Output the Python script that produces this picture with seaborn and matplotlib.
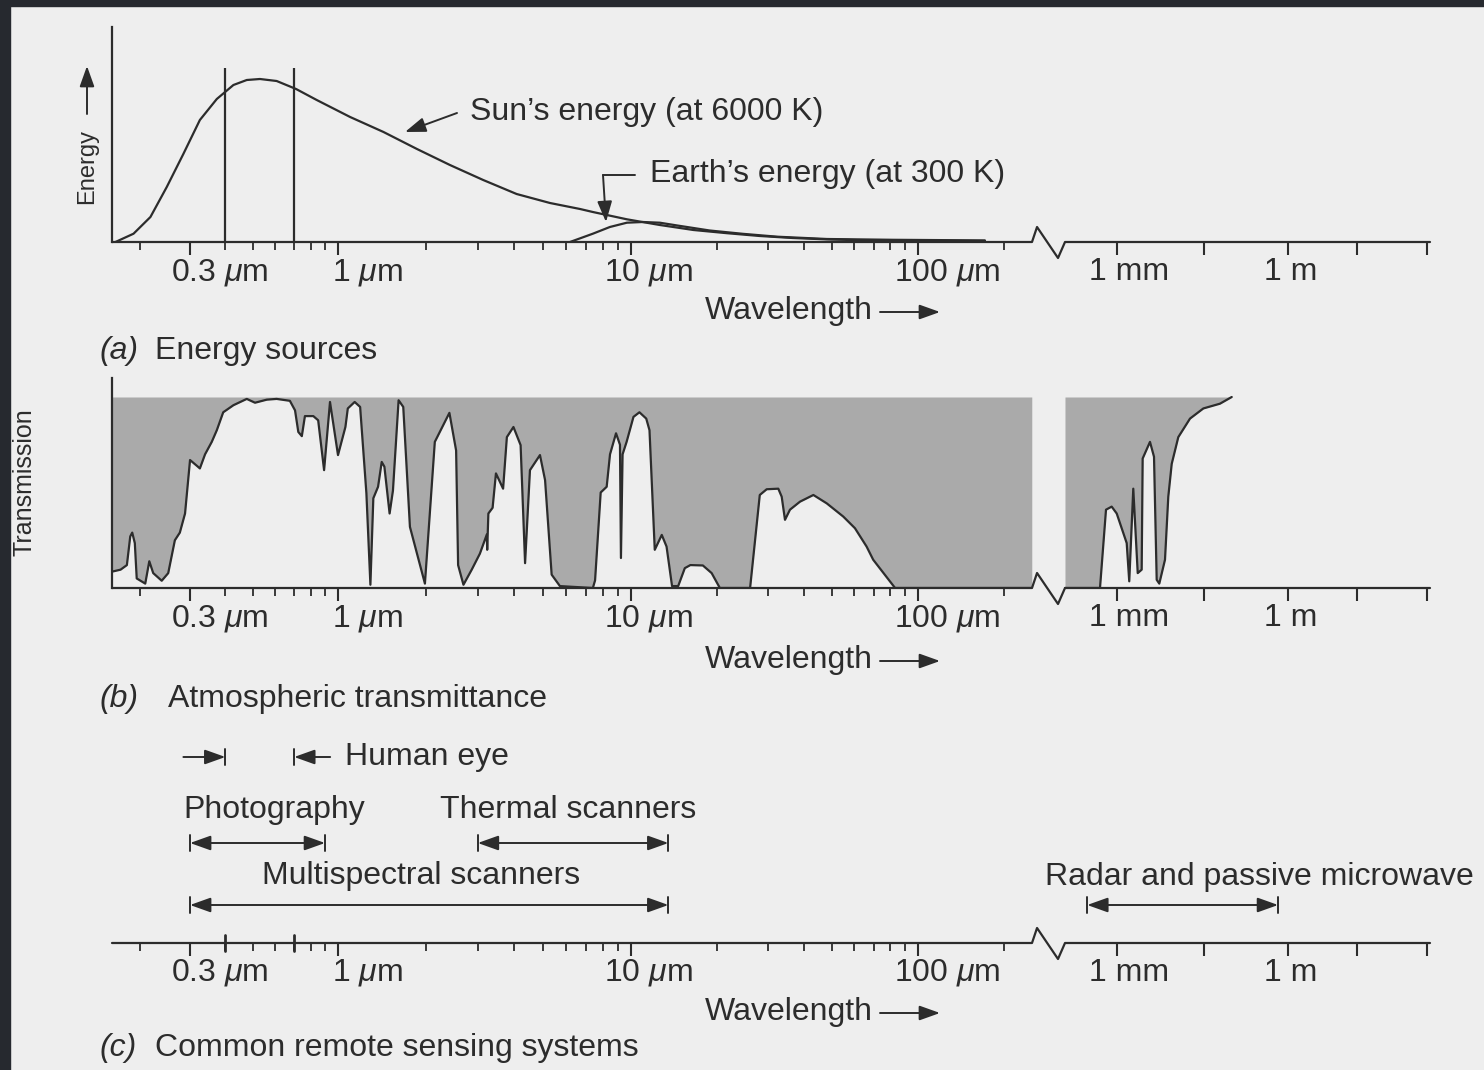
import numpy as np
import matplotlib
matplotlib.use("Agg")
import matplotlib.pyplot as plt
import seaborn as sns
from matplotlib.lines import Line2D
from matplotlib.patches import Rectangle, FancyArrowPatch

# ---------------- data ----------------
# (a) energy sources: wavelength in micrometres, relative energy
sun_wl = [0.163, 0.189, 0.217, 0.248, 0.284, 0.325, 0.373, 0.427, 0.476, 0.530,
          0.607, 0.711, 0.841, 1.10, 1.43, 1.86, 2.41, 3.13, 4.07, 5.29,
          6.70, 7.41, 9.68, 12.6, 16.5, 21.6, 28.1, 36.6, 48.2, 62.8, 86.5, 171]
sun_energy = [0, 8.3, 25, 55, 88, 122, 143, 157, 162, 163,
              161, 153, 142, 125, 110, 93, 77, 62, 48, 39,
              33, 30, 22.7, 17, 12, 8.8, 6, 4, 2.6, 1.8, 1.4, 1.0]
earth_wl = [6.19, 7.41, 8.47, 9.68, 11.0, 12.6, 14.5, 18.8, 24.5, 32.3, 48.2, 81.8, 171]
earth_energy = [0, 8.3, 15, 19.3, 20, 19.3, 16.5, 11.5, 8.2, 5.3, 3.0, 2.2, 1.6]
visible_band = [0.4, 0.7]

# (b) atmospheric transmittance (fraction), part below the axis break
trans_wl = [0.159, 0.160, 0.170, 0.179, 0.184, 0.187, 0.191, 0.194, 0.208, 0.215,
            0.222, 0.238, 0.251, 0.265, 0.276, 0.288, 0.300, 0.317, 0.325, 0.339,
            0.358, 0.373, 0.393, 0.427, 0.476, 0.509, 0.560, 0.607, 0.676, 0.705,
            0.724, 0.745, 0.764, 0.818, 0.851, 0.893, 0.937, 1.00, 1.06, 1.08,
            1.14, 1.19, 1.25, 1.29, 1.32, 1.37, 1.41, 1.44, 1.50, 1.54,
            1.61, 1.67, 1.76, 1.98, 2.14, 2.40, 2.53, 2.57, 2.68, 2.86,
            3.05, 3.22, 3.23, 3.26, 3.37, 3.46, 3.66, 3.77, 3.97, 4.20,
            4.35, 4.52, 4.89, 5.09, 5.36, 5.72, 7.41, 7.54, 7.88, 8.26,
            8.48, 8.89, 9.17, 9.24, 9.36, 9.66, 10.2, 10.7, 11.3, 11.6,
            12.1, 12.8, 13.3, 13.9, 14.6, 15.4, 16.1, 17.8, 19.1, 20.4,
            26.0, 28.1, 29.7, 32.6, 33.5, 34.4, 35.8, 38.8, 43.2, 48.1,
            54.9, 60.3, 66.2, 69.8, 83.2, 249]
trans_val = [0.087, 0.087, 0.096, 0.12, 0.27, 0.29, 0.235, 0.05, 0.023, 0.14,
             0.078, 0.038, 0.078, 0.25, 0.29, 0.39, 0.67, 0.64, 0.626, 0.70,
             0.765, 0.826, 0.92, 0.957, 0.99, 0.97, 0.986, 0.99, 0.98, 0.93,
             0.817, 0.795, 0.90, 0.90, 0.878, 0.617, 0.974, 0.696, 0.843, 0.94,
             0.974, 0.948, 0.496, 0.017, 0.47, 0.53, 0.66, 0.635, 0.39, 0.51,
             0.983, 0.948, 0.32, 0.023, 0.765, 0.917, 0.72, 0.12, 0.017, 0.096,
             0.18, 0.28, 0.20, 0.39, 0.42, 0.60, 0.52, 0.79, 0.843, 0.748,
             0.13, 0.617, 0.696, 0.565, 0.07, 0.01, 0.0, 0.04, 0.50, 0.53,
             0.70, 0.81, 0.75, 0.157, 0.70, 0.765, 0.896, 0.92, 0.887, 0.826,
             0.20, 0.278, 0.217, 0.01, 0.01, 0.104, 0.12, 0.118, 0.078, 0.0,
             0.0, 0.487, 0.517, 0.52, 0.478, 0.357, 0.41, 0.452, 0.487, 0.443,
             0.374, 0.313, 0.217, 0.148, 0.0, 0.0]
# part beyond the axis break (microwave region)
trans2_wl = [398, 740, 823, 910, 995, 1480, 1640, 1930, 2310, 2710, 2820, 3790,
             4460, 4970, 5520, 6950, 7940, 9120, 11900, 19100, 32700, 64100, 103000]
trans2_val = [0.0, 0.0, 0.41, 0.426, 0.39, 0.235, 0.035, 0.52, 0.078, 0.096, 0.678, 0.765,
              0.687, 0.043, 0.023, 0.148, 0.478, 0.65, 0.79, 0.887, 0.94, 0.965, 1.0]

# (c) remote sensing systems: wavelength ranges in micrometres
systems = ["Photography", "Thermal scanners", "Multispectral scanners",
           "Radar and passive microwave"]
sys_start = [0.3, 3.0, 0.3, 590]
sys_end = [0.9, 13.5, 13.5, 6.7e5]
human_eye = [0.4, 0.7]

# axis ticks and labels
major_ticks = [0.3, 1, 10, 100, 1e3, 3.36e4, 1e6, 1.62e7, 2.75e8]
minor_ticks = [0.2, 0.4, 0.5, 0.6, 0.7, 0.8, 0.9, 2, 3, 4, 5, 6, 7, 8, 9,
               20, 30, 40, 50, 60, 70, 80, 90, 200]
label_wl = [0.3, 1, 10, 100, 1e3, 1e6]
label_txt = [r"0.3 $\mu$m", r"1 $\mu$m", r"10 $\mu$m", r"100 $\mu$m", "1 mm", "1 m"]

# ---------------- style ----------------
sns.set_theme(style="white")
plt.rcParams["font.family"] = ["Liberation Sans", "DejaVu Sans"]
plt.rcParams["mathtext.fontset"] = "custom"
plt.rcParams["mathtext.rm"] = "Liberation Sans"
plt.rcParams["mathtext.it"] = "Liberation Sans:italic"

W, H = 1484, 1070
INK = "#2c2c2c"
PAPER = "#eeeeee"
GRAY = "#aaaaaa"
FS = 23
LW = 1.6
label_dx = [30, 29, 17, 29, 12, 3]

fig = plt.figure(figsize=(W / 100, H / 100), dpi=100, facecolor=PAPER)


def rect(l, t, r, b):
    return [l / W, 1 - b / H, (r - l) / W, (b - t) / H]


def P(x, y):
    return (x, H - y)


# piecewise logarithmic wavelength scale with a break between ~250 um and ~400 um
AX_LOG = [-0.80, -0.523, 0.0, 1.0, 2.0, 2.397, 2.6, 3.0, 6.0, 8.49]
AX_PX = [112, 190, 338, 631, 918, 1032, 1065, 1117, 1288, 1430]


def fwd(w):
    w = np.asarray(w, dtype=float)
    return np.interp(np.log10(np.clip(w, 1e-30, None)), AX_LOG, AX_PX)


def inv(p):
    p = np.asarray(p, dtype=float)
    return 10 ** np.interp(p, AX_PX, AX_LOG)


XMIN, XMAX = 10 ** AX_LOG[0], 10 ** AX_LOG[-1]
BRK = [10 ** 2.397, 10 ** 2.428, 10 ** 2.557, 10 ** 2.6]


def setup_axis(ax, height_px, left_spine=True):
    ax.set_xscale("function", functions=(fwd, inv))
    ax.set_xlim(XMIN, XMAX)
    ax.set_facecolor("none")
    for s in ["top", "right", "bottom"]:
        ax.spines[s].set_visible(False)
    ax.spines["left"].set_visible(left_spine)
    ax.spines["left"].set_color(INK)
    ax.spines["left"].set_linewidth(LW)
    ax.set_xticks(major_ticks)
    ax.set_xticks(minor_ticks, minor=True)
    ax.set_yticks([])
    ax.tick_params(axis="x", which="both", bottom=True, labelbottom=False,
                   direction="out", color=INK)
    ax.tick_params(axis="x", which="major", length=9.5, width=1.5)
    ax.tick_params(axis="x", which="minor", length=5.5, width=1.3)
    ax.set_xlabel("")
    ax.set_ylabel("")
    up, dn = 15 / height_px, 16 / height_px
    ax.plot([XMIN, BRK[0], BRK[1], BRK[2], BRK[3], XMAX], [0, 0, up, -dn, 0, 0],
            transform=ax.get_xaxis_transform(), color=INK, lw=LW, clip_on=False)
    for w, lab, dx in zip(label_wl, label_txt, label_dx):
        ax.annotate(lab, xy=(w, 0), xycoords=("data", "axes fraction"),
                    xytext=(dx, -30), textcoords="offset pixels",
                    ha="center", va="center", fontsize=FS, color=INK)


def ftext(x, y, s, **kw):
    kw.setdefault("fontsize", FS)
    kw.setdefault("va", "center")
    fig.text(x / W, 1 - y / H, s, color=INK, **kw)


def farrow(x0, y0, x1, y1, style="-|>"):
    fig.add_artist(FancyArrowPatch(
        P(x0, y0), P(x1, y1), transform=None,
        arrowstyle=style + ",head_length=0.7,head_width=0.25",
        mutation_scale=18, color=INK, lw=1.4, shrinkA=0, shrinkB=0))


ARROW = dict(mutation_scale=18, color=INK, lw=1.4, shrinkA=0, shrinkB=0)

# ---------------- panel (a) ----------------
ax_a = fig.add_axes(rect(112, 27, 1430, 242))
sns.lineplot(x=sun_wl, y=sun_energy, ax=ax_a, color=INK, lw=LW, estimator=None, sort=False)
sns.lineplot(x=earth_wl, y=earth_energy, ax=ax_a, color=INK, lw=LW, estimator=None, sort=False)
ax_a.vlines(visible_band, 0, 174, color=INK, lw=LW)
ax_a.set_ylim(0, 215)
setup_axis(ax_a, 215)

ftext(470, 112, "Sun\u2019s energy (at 6000 K)")
farrow(457, 113, 405, 132)
ftext(650, 174, "Earth\u2019s energy (at 300 K)")
fig.add_artist(Line2D([635 / W, 603 / W], [1 - 175 / H, 1 - 175 / H], color=INK, lw=1.4))
farrow(603, 175, 606, 222)
ftext(87, 167, "Energy", rotation=90, ha="center", fontsize=17)
farrow(87, 114, 87, 66)
ftext(705, 311, "Wavelength")
farrow(880, 312, 940, 312)
ftext(100, 351, "(a)", style="italic")
ftext(155, 351, "Energy sources")

# ---------------- panel (b) ----------------
ax_b = fig.add_axes(rect(112, 378, 1430, 588))
ax_b.fill_between(trans_wl, trans_val, 1, color=GRAY, lw=0)
ax_b.fill_between(trans2_wl, trans2_val, 1, color=GRAY, lw=0)
sns.lineplot(x=trans_wl, y=trans_val, ax=ax_b, color=INK, lw=LW, estimator=None, sort=False)
sns.lineplot(x=trans2_wl, y=trans2_val, ax=ax_b, color=INK, lw=LW, estimator=None, sort=False)
ax_b.set_ylim(0, 210 / 191)
setup_axis(ax_b, 210)

ftext(25, 482, "Transmission", rotation=90, ha="center", fontsize=18)
ftext(705, 660, "Wavelength")
farrow(880, 661, 940, 661)
ftext(100, 699, "(b)", style="italic")
ftext(168, 699, "Atmospheric transmittance")

# ---------------- panel (c) ----------------
ax_c = fig.add_axes(rect(112, 730, 1430, 943))
ax_c.set_ylim(0, 1)
setup_axis(ax_c, 213, left_spine=False)
xt = ax_c.get_xaxis_transform()
bar = 8 / 213

# human eye
eye_y = (943 - 757) / 213
ax_c.annotate("", xy=(human_eye[0], eye_y), xytext=(float(inv(fwd(human_eye[0]) - 42)), eye_y),
              xycoords=xt, textcoords=xt,
              arrowprops=dict(arrowstyle="-|>,head_length=0.7,head_width=0.25", **ARROW))
ax_c.annotate("", xy=(human_eye[1], eye_y), xytext=(float(inv(fwd(human_eye[1]) + 36)), eye_y),
              xycoords=xt, textcoords=xt,
              arrowprops=dict(arrowstyle="-|>,head_length=0.7,head_width=0.25", **ARROW))
for w in human_eye:
    ax_c.plot([w, w], [eye_y - bar, eye_y + bar], transform=xt, color=INK, lw=1.4)
    ax_c.plot([w, w], [-8 / 213, 8 / 213], transform=xt, color=INK, lw=2.0, clip_on=False)
ftext(345, 757, "Human eye")

row_y = [(943 - 843) / 213, (943 - 843) / 213, (943 - 905) / 213, (943 - 905) / 213]
text_pos = [(183, 810), (440, 810), (262, 876), (1045, 877)]
for name, w0, w1, y, (tx, ty) in zip(systems, sys_start, sys_end, row_y, text_pos):
    ax_c.annotate("", xy=(w1, y), xytext=(w0, y), xycoords=xt, textcoords=xt,
                  arrowprops=dict(arrowstyle="<|-|>,head_length=0.7,head_width=0.25", **ARROW))
    for w in (w0, w1):
        ax_c.plot([w, w], [y - bar, y + bar], transform=xt, color=INK, lw=1.4)
    ftext(tx, ty, name)

ftext(705, 1012, "Wavelength")
farrow(880, 1013, 940, 1013)
ftext(100, 1048, "(c)", style="italic")
ftext(155, 1048, "Common remote sensing systems")

# scanned page border
fig.add_artist(Rectangle((0, 0), 10 / W, 1, transform=fig.transFigure, color="#26292f", zorder=10))
fig.add_artist(Rectangle((0, 1 - 6 / H), 1, 6 / H, transform=fig.transFigure, color="#26292f", zorder=10))

fig.savefig("out.png", dpi=100, facecolor=PAPER)
